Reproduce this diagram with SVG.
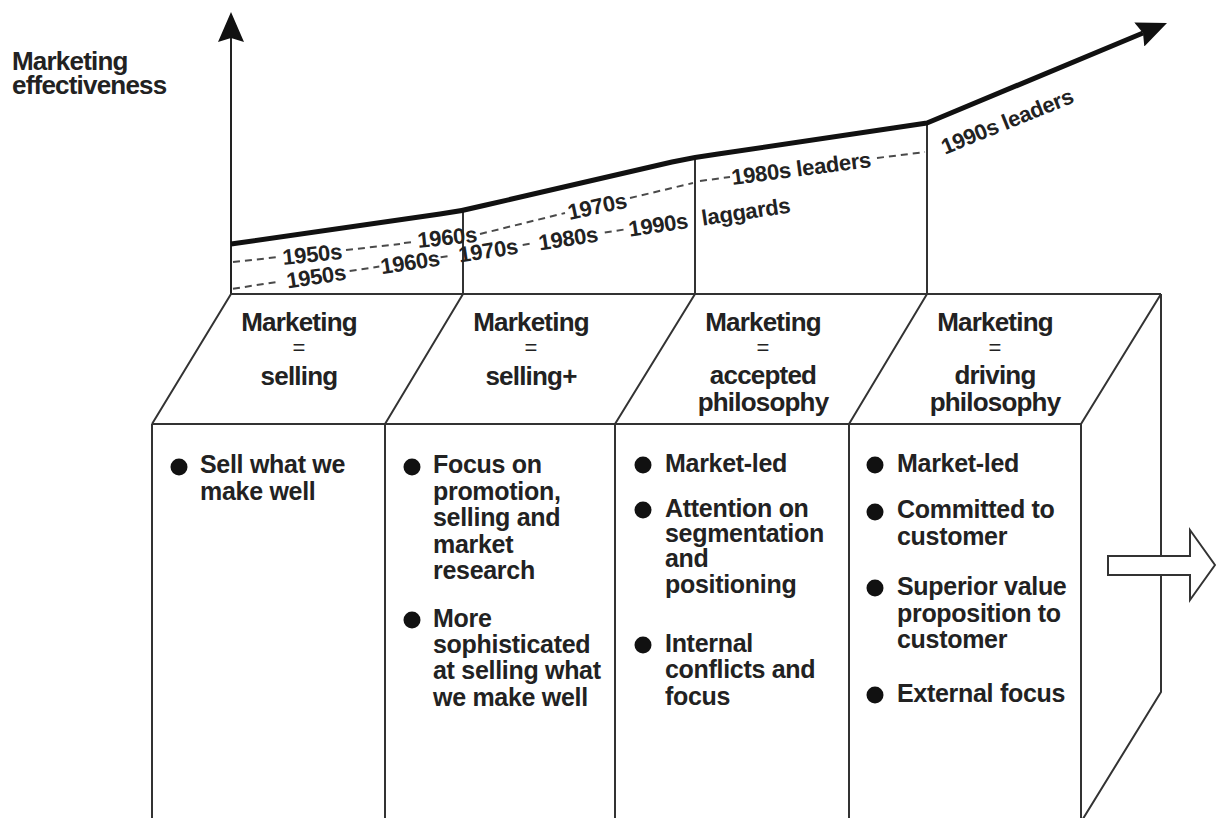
<svg xmlns="http://www.w3.org/2000/svg" width="1216" height="818" viewBox="0 0 1216 818">
<defs>
<style>
.t{font-family:"Liberation Sans",Arial,sans-serif;font-weight:bold;fill:#222}
.hd{font-size:26px;letter-spacing:-0.8px}
.c{text-anchor:middle}
.eq{font-size:22px;font-weight:normal;text-anchor:middle}
.yr{font-size:22px;letter-spacing:-0.3px}
.bd{font-size:25px;letter-spacing:-0.3px}
.ln{stroke:#333;stroke-width:2;fill:none}
.ds{stroke:#4a4a4a;stroke-width:2;stroke-dasharray:7 5;fill:none}
.dot{fill:#111}
</style>
<marker id="ah" markerUnits="userSpaceOnUse" markerWidth="30" markerHeight="26" viewBox="0 0 30 26" refX="4" refY="13" orient="auto"><path d="M0,0 L30,13 L0,26 L4,13 Z" fill="#111"/></marker>
</defs>
<rect width="1216" height="818" fill="#fff"/>

<g id="axis">
<line x1="231" y1="294" x2="231" y2="38" stroke="#222" stroke-width="2" marker-end="url(#ah)"/>
<text class="t hd" x="12" y="70">Marketing</text>
<text class="t hd" x="12" y="94">effectiveness</text>
</g>

<g id="box">
<path class="ln" d="M463,211 V294 M695,157 V294 M927,123 V294"/>
<path class="ln" stroke-width="2.5" d="M231,294 H1161"/>
<path class="ln" d="M152,424 H1081"/>
<path class="ln" d="M231,294 L152,424 M463,294 L385,424 M695,294 L615,424 M927,294 L849,424 M1161,294 L1081,424"/>
<path class="ln" d="M152,424 V830 M385,424 V830 M615,424 V830 M849,424 V830 M1081,424 V830"/>
<path class="ln" d="M1161,294 V692 L1081,822"/>
</g>

<g id="curve">
<path d="M231,244 L440,214 Q463,211 486,205 L672,162 Q695,157 718,154 L927,123 L1143,33" fill="none" stroke="#111" stroke-width="5" stroke-linejoin="round" marker-end="url(#ah)"/>
<text class="t yr c" x="1007" y="129" transform="rotate(-22 1007 121)">1990s leaders</text>
</g>

<g id="connectors">
<g id="leaders">
<line class="ds" x1="233" y1="262" x2="279" y2="257"/>
<text class="t yr c" x="312" y="262" transform="rotate(-5.9 312 254)">1950s</text>
<line class="ds" x1="346" y1="250" x2="400" y2="244"/>
<line class="ds" x1="404" y1="243" x2="413" y2="242"/>
<text class="t yr c" x="447" y="245" transform="rotate(-5.9 447 237)">1960s</text>
<line class="ds" x1="480" y1="234" x2="565" y2="213"/>
<text class="t yr c" x="597" y="214" transform="rotate(-12 597 206)">1970s</text>
<line class="ds" x1="630" y1="198" x2="693" y2="183"/>
<line class="ds" x1="700" y1="181" x2="730" y2="177"/>
<text class="t yr c" x="801" y="176" transform="rotate(-7.4 801 168)">1980s leaders</text>
<line class="ds" x1="877" y1="158" x2="925" y2="152"/>
</g>
<g id="laggards" transform="translate(231,289) rotate(-8.6)">
<line class="ds" x1="2" y1="0" x2="50" y2="0"/>
<text class="t yr c" x="86" y="8">1950s</text>
<line class="ds" x1="120" y1="0" x2="150" y2="0"/>
<text class="t yr c" x="181" y="8">1960s</text>
<line class="ds" x1="212" y1="0" x2="224" y2="0"/>
<text class="t yr c" x="260" y="8">1970s</text>
<line class="ds" x1="295" y1="0" x2="306" y2="0"/>
<text class="t yr c" x="341" y="8">1980s</text>
<line class="ds" x1="378" y1="0" x2="400" y2="0"/>
<text class="t yr c" x="432" y="8">1990s</text>
<text class="t yr" x="476" y="8">laggards</text>
</g>
</g>

<g id="h1">
<text class="t hd c" x="299" y="331">Marketing</text>
<text class="t eq" x="299" y="355">=</text>
<text class="t hd c" x="299" y="385">selling</text>
</g>
<g id="h2">
<text class="t hd c" x="531" y="331">Marketing</text>
<text class="t eq" x="531" y="355">=</text>
<text class="t hd c" x="531" y="385">selling+</text>
</g>
<g id="h3">
<text class="t hd c" x="763" y="331">Marketing</text>
<text class="t eq" x="763" y="355">=</text>
<text class="t hd c" x="763" y="384">accepted</text>
<text class="t hd c" x="763" y="411">philosophy</text>
</g>
<g id="h4">
<text class="t hd c" x="995" y="331">Marketing</text>
<text class="t eq" x="995" y="355">=</text>
<text class="t hd c" x="995" y="384">driving</text>
<text class="t hd c" x="995" y="411">philosophy</text>
</g>

<g id="c1">
<circle class="dot" cx="179" cy="467" r="8.5"/>
<text class="t bd" x="200" y="473">Sell what we</text>
<text class="t bd" x="200" y="500">make well</text>
</g>
<g id="c2">
<circle class="dot" cx="412" cy="467" r="8.5"/>
<text class="t bd" x="433" y="473">Focus on</text>
<text class="t bd" x="433" y="500">promotion,</text>
<text class="t bd" x="433" y="526">selling and</text>
<text class="t bd" x="433" y="553">market</text>
<text class="t bd" x="433" y="579">research</text>
<circle class="dot" cx="412" cy="620" r="8.5"/>
<text class="t bd" x="433" y="627">More</text>
<text class="t bd" x="433" y="653">sophisticated</text>
<text class="t bd" x="433" y="679">at selling what</text>
<text class="t bd" x="433" y="706">we make well</text>
</g>
<g id="c3">
<circle class="dot" cx="643" cy="465" r="8.5"/>
<text class="t bd" x="665" y="472">Market-led</text>
<circle class="dot" cx="643" cy="510" r="8.5"/>
<text class="t bd" x="665" y="517">Attention on</text>
<text class="t bd" x="665" y="542">segmentation</text>
<text class="t bd" x="665" y="567">and</text>
<text class="t bd" x="665" y="593">positioning</text>
<circle class="dot" cx="643" cy="645" r="8.5"/>
<text class="t bd" x="665" y="652">Internal</text>
<text class="t bd" x="665" y="678">conflicts and</text>
<text class="t bd" x="665" y="705">focus</text>
</g>
<g id="c4">
<circle class="dot" cx="875" cy="465" r="8.5"/>
<text class="t bd" x="897" y="472">Market-led</text>
<circle class="dot" cx="875" cy="512" r="8.5"/>
<text class="t bd" x="897" y="518">Committed to</text>
<text class="t bd" x="897" y="545">customer</text>
<circle class="dot" cx="875" cy="588" r="8.5"/>
<text class="t bd" x="897" y="595">Superior value</text>
<text class="t bd" x="897" y="622">proposition to</text>
<text class="t bd" x="897" y="648">customer</text>
<circle class="dot" cx="875" cy="695" r="8.5"/>
<text class="t bd" x="897" y="702">External focus</text>
</g>

<g id="arrow">
<polygon points="1108,556 1190,556 1190,530 1215,565 1190,600 1190,575 1108,575" fill="#fff" stroke="#333" stroke-width="2"/>
</g>
</svg>
